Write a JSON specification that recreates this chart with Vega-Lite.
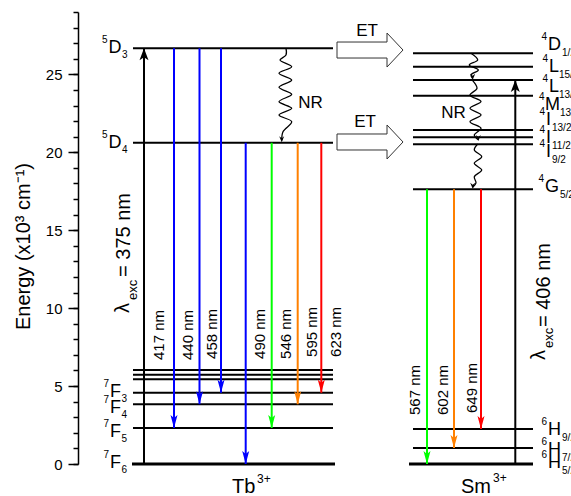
{
"$schema": "https://vega.github.io/schema/vega-lite/v6.json",
"width": 493, "height": 452,
"autosize": {"type": "none"},
"padding": {"left": 78, "top": 12, "right": 0, "bottom": 32},
"background": "white",
"config": {"view": {"stroke": null}, "font": "Liberation Sans", "axis": {"grid": false}, "text": {"font": "Liberation Sans", "color": "black"}},
"datasets": {
"levels": [
{"ion":"Tb","term":"5D3","x1":55,"x2":255,"e":26.67},
{"ion":"Tb","term":"5D4","x1":55,"x2":255,"e":20.61},
{"ion":"Tb","term":"7F0","x1":55,"x2":255,"e":6.03},
{"ion":"Tb","term":"7F1","x1":55,"x2":255,"e":5.73},
{"ion":"Tb","term":"7F2","x1":55,"x2":255,"e":5.43},
{"ion":"Tb","term":"7F3","x1":55,"x2":255,"e":4.57},
{"ion":"Tb","term":"7F4","x1":55,"x2":255,"e":3.83},
{"ion":"Tb","term":"7F5","x1":55,"x2":255,"e":2.31},
{"ion":"Tb","term":"7F6","x1":54,"x2":257,"e":0},
{"ion":"Sm","term":"4D1/2","x1":335,"x2":455,"e":26.35},
{"ion":"Sm","term":"4L15/2","x1":335,"x2":455,"e":25.49},
{"ion":"Sm","term":"4L13/2","x1":335,"x2":455,"e":24.64},
{"ion":"Sm","term":"4M13/2","x1":335,"x2":455,"e":23.63},
{"ion":"Sm","term":"4I13/2","x1":335,"x2":455,"e":21.43},
{"ion":"Sm","term":"4I11/2","x1":335,"x2":455,"e":20.96},
{"ion":"Sm","term":"4I9/2","x1":335,"x2":455,"e":20.51},
{"ion":"Sm","term":"4G5/2","x1":335,"x2":455,"e":17.62},
{"ion":"Sm","term":"6H9/2","x1":335,"x2":455,"e":2.25},
{"ion":"Sm","term":"6H7/2","x1":335,"x2":455,"e":1.03},
{"ion":"Sm","term":"6H5/2","x1":331,"x2":455,"e":0}
],
"arrows": [
{"id":"exc375","x":66,"from":0,"to":26.67},
{"id":"417","x":96,"from":26.67,"to":2.31},
{"id":"440","x":121.5,"from":26.67,"to":3.83},
{"id":"458","x":143,"from":26.67,"to":4.57},
{"id":"490","x":167.7,"from":20.61,"to":0},
{"id":"546","x":193.7,"from":20.61,"to":2.31},
{"id":"595","x":219.7,"from":20.61,"to":3.83},
{"id":"623","x":243.3,"from":20.61,"to":4.57},
{"id":"567","x":349,"from":17.62,"to":0},
{"id":"602","x":376,"from":17.62,"to":1.03},
{"id":"649","x":403,"from":17.62,"to":2.25},
{"id":"exc406","x":437.3,"from":0,"to":24.64}
],
"nr": [
{"grp":"tb","seq":0,"x":208,"v":26.67},
{"grp":"tb","seq":1,"x":208,"v":26.24},
{"grp":"tb","seq":2,"x":202,"v":25.92},
{"grp":"tb","seq":3,"x":213.7,"v":25.49},
{"grp":"tb","seq":4,"x":201,"v":25.07},
{"grp":"tb","seq":5,"x":213.7,"v":24.64},
{"grp":"tb","seq":6,"x":201,"v":24.17},
{"grp":"tb","seq":7,"x":213.7,"v":23.72},
{"grp":"tb","seq":8,"x":201,"v":23.25},
{"grp":"tb","seq":9,"x":213.7,"v":22.82},
{"grp":"tb","seq":10,"x":201,"v":22.39},
{"grp":"tb","seq":11,"x":213.7,"v":21.96},
{"grp":"tb","seq":12,"x":205,"v":21.32},
{"grp":"tb","seq":13,"x":203.7,"v":20.75},
{"grp":"sm1","seq":0,"x":393,"v":26.35},
{"grp":"sm1","seq":1,"x":399.7,"v":25.92},
{"grp":"sm1","seq":2,"x":391.3,"v":25.6},
{"grp":"sm1","seq":3,"x":400.3,"v":25.28},
{"grp":"sm1","seq":4,"x":393,"v":24.96},
{"grp":"sm1","seq":5,"x":394.7,"v":24.72},
{"grp":"sm2","seq":0,"x":394.7,"v":24.6},
{"grp":"sm2","seq":1,"x":399,"v":24.1},
{"grp":"sm2","seq":2,"x":392,"v":23.67},
{"grp":"sm2","seq":3,"x":403,"v":23.25},
{"grp":"sm2","seq":4,"x":392,"v":22.82},
{"grp":"sm2","seq":5,"x":403,"v":22.39},
{"grp":"sm2","seq":6,"x":392,"v":21.96},
{"grp":"sm2","seq":7,"x":403,"v":21.54},
{"grp":"sm2","seq":8,"x":396.3,"v":21.11},
{"grp":"sm2","seq":9,"x":400.3,"v":20.8},
{"grp":"sm3","seq":0,"x":399.7,"v":20.53},
{"grp":"sm3","seq":1,"x":396.3,"v":20.15},
{"grp":"sm3","seq":2,"x":403.7,"v":19.72},
{"grp":"sm3","seq":3,"x":396.3,"v":19.29},
{"grp":"sm3","seq":4,"x":403.7,"v":18.86},
{"grp":"sm3","seq":5,"x":396.3,"v":18.43},
{"grp":"sm3","seq":6,"x":398,"v":18.03},
{"grp":"sm3","seq":7,"x":394.7,"v":17.75}
],
"nrtips": [
{"grp":"tb","x":203.7,"v":20.65},
{"grp":"sm1","x":394.7,"v":24.66},
{"grp":"sm2","x":400.3,"v":20.72},
{"grp":"sm3","x":394.7,"v":17.66}
],
"et": [
{"x":259,"v":26.56},
{"x":259,"v":20.66}
],
"wl": [
{"t":"417 nm","x":81,"y":6.67},
{"t":"440 nm","x":109.5,"y":6.67},
{"t":"458 nm","x":134,"y":6.74},
{"t":"490 nm","x":182,"y":6.74},
{"t":"546 nm","x":208,"y":6.74},
{"t":"595 nm","x":233.5,"y":6.87},
{"t":"623 nm","x":258,"y":6.87},
{"t":"567 nm","x":337,"y":3.14},
{"t":"602 nm","x":364.5,"y":3.14},
{"t":"649 nm","x":394,"y":3.27}
],
"exc": [
{"t":"λ","part":"main","x":44.5,"y":9.69},
{"t":"exc","part":"sub","x":54.5,"y":10.52},
{"t":"= 375 nm","part":"main","x":46,"y":12.0},
{"t":"λ","part":"main","x":461,"y":6.67},
{"t":"exc","part":"sub","x":471,"y":7.44},
{"t":"= 406 nm","part":"main","x":466,"y":8.79}
],
"terms": [
{"ion":"Tb","main":"D","sup":"5","sub":"3","x":43.5,"xs":29.5,"xb":44,"y":26.35},
{"ion":"Tb","main":"D","sup":"5","sub":"4","x":43.5,"xs":29.5,"xb":44,"y":20.26},
{"ion":"Tb","main":"F","sup":"7","sub":"3","x":43,"xs":31,"xb":43.5,"y":4.3},
{"ion":"Tb","main":"F","sup":"7","sub":"4","x":43,"xs":31,"xb":43.5,"y":3.27},
{"ion":"Tb","main":"F","sup":"7","sub":"5","x":43,"xs":31,"xb":43.5,"y":1.73},
{"ion":"Tb","main":"F","sup":"7","sub":"6","x":43,"xs":31,"xb":43.5,"y":-0.26},
{"ion":"Sm","main":"D","sup":"4","sub":"1/2","x":470,"xs":469,"xb":484,"y":26.56},
{"ion":"Sm","main":"L","sup":"4","sub":"15/2","x":471,"xs":470,"xb":481,"y":25.15},
{"ion":"Sm","main":"L","sup":"4","sub":"13/2","x":471,"xs":470,"xb":481,"y":23.87},
{"ion":"Sm","main":"M","sup":"4","sub":"13/2","x":467,"xs":466.5,"xb":482,"y":22.71},
{"ion":"Sm","main":"I","sup":"4","sub":"13/2","x":468,"xs":467,"xb":474,"y":21.75},
{"ion":"Sm","main":"I","sup":"4","sub":"11/2","x":468,"xs":467,"xb":474,"y":20.6},
{"ion":"Sm","main":"I","sup":"4","sub":"9/2","x":468,"xs":467,"xb":474,"y":19.7},
{"ion":"Sm","main":"G","sup":"4","sub":"5/2","x":467,"xs":466,"xb":482,"y":17.45},
{"ion":"Sm","main":"H","sup":"6","sub":"9/2","x":470,"xs":469,"xb":484,"y":1.86},
{"ion":"Sm","main":"H","sup":"6","sub":"7/2","x":470,"xs":469,"xb":484,"y":0.58},
{"ion":"Sm","main":"H","sup":"6","sub":"5/2","x":470,"xs":469,"xb":484,"y":-0.26}
],
"notes": [
{"t":"NR","x":232.5,"y":23.13,"kind":"mid"},
{"t":"NR","x":375.5,"y":22.55,"kind":"mid"},
{"t":"ET","x":289,"y":27.78,"kind":"mid"},
{"t":"ET","x":287,"y":21.94,"kind":"mid"},
{"t":"Tb","x":154,"y":-1.86,"kind":"ion"},
{"t":"Sm","x":383,"y":-1.86,"kind":"ion"},
{"t":"3+","x":179,"y":-1.22,"kind":"sup"},
{"t":"3+","x":415,"y":-1.15,"kind":"sup"}
]
},
"resolve": {"axis": {"y": "independent"}},
"layer": [
{"data": {"name": "levels"}, "transform": [{"filter": "datum.e > 0"}],
 "mark": {"type": "rule", "strokeWidth": 2, "color": "black"},
 "encoding": {
  "x": {"field": "x1", "type": "quantitative", "scale": {"domain": [0, 493], "nice": false}, "axis": null},
  "x2": {"field": "x2"},
  "y": {"field": "e", "type": "quantitative", "scale": {"domain": [0, 29], "nice": false},
   "axis": {"orient": "left", "values": [0, 5, 10, 15, 20, 25], "format": "d", "title": "Energy (x10³ cm⁻¹)", "titleFontSize": 20, "titleFontWeight": "normal", "titleColor": "black", "titleX": -55, "titleY": 234, "titleAngle": 270, "titleAlign": "center", "titleBaseline": "middle", "labelFontSize": 15, "labelColor": "black", "labelPadding": 6, "tickSize": 10, "tickWidth": 1.5, "tickColor": "black", "domainColor": "black", "domainWidth": 1.5}}
 }},
{"data": {"name": "levels"}, "transform": [{"filter": "datum.e == 0"}],
 "mark": {"type": "rule", "strokeWidth": 3, "color": "black"},
 "encoding": {
  "x": {"field": "x1", "type": "quantitative", "scale": {"domain": [0, 493], "nice": false}, "axis": null},
  "x2": {"field": "x2"},
  "y": {"field": "e", "type": "quantitative", "scale": {"domain": [0, 29], "nice": false},
   "axis": {"orient": "left", "values": [0,1,2,3,4,5,6,7,8,9,10,11,12,13,14,15,16,17,18,19,20,21,22,23,24,25,26,27,28,29], "labels": false, "title": null, "tickSize": 5, "tickWidth": 1.5, "tickColor": "black", "domain": false}}
 }},
{"data": {"name": "arrows"},
 "mark": {"type": "rule", "strokeWidth": 2},
 "encoding": {
  "x": {"field": "x", "type": "quantitative", "scale": {"domain": [0, 493], "nice": false}, "axis": null},
  "y": {"field": "from", "type": "quantitative", "scale": {"domain": [0, 29], "nice": false}, "axis": null},
  "y2": {"field": "to"},
  "color": {"field": "id", "type": "nominal", "legend": null, "scale": {"domain": ["exc375","417","440","458","490","546","595","623","567","602","649","exc406"], "range": ["#000000","#0000ff","#0000ff","#0000ff","#0000ff","#00ff00","#ff8000","#ff0000","#00ff00","#ff8000","#ff0000","#000000"]}}
 }},
{"data": {"name": "arrows"}, "transform": [{"filter": "datum.to < datum.from"}],
 "mark": {"type": "point", "shape": "M-3.5,-13L0,-10L3.5,-13L0,0Z", "size": 4, "filled": true, "opacity": 1, "strokeWidth": 0},
 "encoding": {
  "x": {"field": "x", "type": "quantitative", "scale": {"domain": [0, 493], "nice": false}, "axis": null},
  "y": {"field": "to", "type": "quantitative", "scale": {"domain": [0, 29], "nice": false}, "axis": null},
  "color": {"field": "id", "type": "nominal", "legend": null}
 }},
{"data": {"name": "arrows"}, "transform": [{"filter": "datum.to > datum.from"}],
 "mark": {"type": "point", "shape": "M-4.5,12L0,9L4.5,12L0,0Z", "size": 4, "filled": true, "opacity": 1, "strokeWidth": 0},
 "encoding": {
  "x": {"field": "x", "type": "quantitative", "scale": {"domain": [0, 493], "nice": false}, "axis": null},
  "y": {"field": "to", "type": "quantitative", "scale": {"domain": [0, 29], "nice": false}, "axis": null},
  "color": {"field": "id", "type": "nominal", "legend": null}
 }},
{"data": {"name": "nr"},
 "mark": {"type": "line", "interpolate": "catmull-rom", "strokeWidth": 1.3, "color": "black"},
 "encoding": {
  "x": {"field": "x", "type": "quantitative", "scale": {"domain": [0, 493], "nice": false}, "axis": null},
  "y": {"field": "v", "type": "quantitative", "scale": {"domain": [0, 29], "nice": false}, "axis": null},
  "detail": {"field": "grp"},
  "order": {"field": "seq", "type": "quantitative"}
 }},
{"data": {"name": "nrtips"},
 "mark": {"type": "point", "shape": "M-2.5,-6L0,-4L2.5,-6L0,0Z", "size": 4, "filled": true, "opacity": 1, "color": "black", "strokeWidth": 0},
 "encoding": {
  "x": {"field": "x", "type": "quantitative", "scale": {"domain": [0, 493], "nice": false}, "axis": null},
  "y": {"field": "v", "type": "quantitative", "scale": {"domain": [0, 29], "nice": false}, "axis": null}
 }},
{"data": {"name": "et"},
 "mark": {"type": "point", "shape": "M0,-8L50,-8L50,-17L66,0L50,17L50,8L0,8Z", "size": 4, "filled": true, "fill": "white", "stroke": "#333333", "strokeWidth": 1, "opacity": 1},
 "encoding": {
  "x": {"field": "x", "type": "quantitative", "scale": {"domain": [0, 493], "nice": false}, "axis": null},
  "y": {"field": "v", "type": "quantitative", "scale": {"domain": [0, 29], "nice": false}, "axis": null}
 }},
{"data": {"name": "wl"},
 "mark": {"type": "text", "angle": 270, "align": "left", "baseline": "middle", "fontSize": 15},
 "encoding": {
  "x": {"field": "x", "type": "quantitative", "scale": {"domain": [0, 493], "nice": false}, "axis": null},
  "y": {"field": "y", "type": "quantitative", "scale": {"domain": [0, 29], "nice": false}, "axis": null},
  "text": {"field": "t"}
 }},
{"data": {"name": "exc"}, "transform": [{"filter": "datum.part == 'main'"}],
 "mark": {"type": "text", "angle": 270, "align": "left", "baseline": "middle", "fontSize": 20},
 "encoding": {
  "x": {"field": "x", "type": "quantitative", "scale": {"domain": [0, 493], "nice": false}, "axis": null},
  "y": {"field": "y", "type": "quantitative", "scale": {"domain": [0, 29], "nice": false}, "axis": null},
  "text": {"field": "t"}
 }},
{"data": {"name": "exc"}, "transform": [{"filter": "datum.part == 'sub'"}],
 "mark": {"type": "text", "angle": 270, "align": "left", "baseline": "middle", "fontSize": 13},
 "encoding": {
  "x": {"field": "x", "type": "quantitative", "scale": {"domain": [0, 493], "nice": false}, "axis": null},
  "y": {"field": "y", "type": "quantitative", "scale": {"domain": [0, 29], "nice": false}, "axis": null},
  "text": {"field": "t"}
 }},
{"data": {"name": "terms"}, "transform": [{"filter": "datum.ion == 'Tb'"}],
 "mark": {"type": "text", "align": "right", "baseline": "alphabetic", "fontSize": 18},
 "encoding": {
  "x": {"field": "x", "type": "quantitative", "scale": {"domain": [0, 493], "nice": false}, "axis": null},
  "y": {"field": "y", "type": "quantitative", "scale": {"domain": [0, 29], "nice": false}, "axis": null},
  "text": {"field": "main"}
 }},
{"data": {"name": "terms"}, "transform": [{"filter": "datum.ion == 'Tb'"}],
 "mark": {"type": "text", "align": "right", "baseline": "alphabetic", "fontSize": 10, "dy": -10},
 "encoding": {
  "x": {"field": "xs", "type": "quantitative", "scale": {"domain": [0, 493], "nice": false}, "axis": null},
  "y": {"field": "y", "type": "quantitative", "scale": {"domain": [0, 29], "nice": false}, "axis": null},
  "text": {"field": "sup"}
 }},
{"data": {"name": "terms"}, "transform": [{"filter": "datum.ion == 'Tb'"}],
 "mark": {"type": "text", "align": "left", "baseline": "alphabetic", "fontSize": 10, "dy": 5},
 "encoding": {
  "x": {"field": "xb", "type": "quantitative", "scale": {"domain": [0, 493], "nice": false}, "axis": null},
  "y": {"field": "y", "type": "quantitative", "scale": {"domain": [0, 29], "nice": false}, "axis": null},
  "text": {"field": "sub"}
 }},
{"data": {"name": "terms"}, "transform": [{"filter": "datum.ion == 'Sm'"}],
 "mark": {"type": "text", "align": "left", "baseline": "alphabetic", "fontSize": 18},
 "encoding": {
  "x": {"field": "x", "type": "quantitative", "scale": {"domain": [0, 493], "nice": false}, "axis": null},
  "y": {"field": "y", "type": "quantitative", "scale": {"domain": [0, 29], "nice": false}, "axis": null},
  "text": {"field": "main"}
 }},
{"data": {"name": "terms"}, "transform": [{"filter": "datum.ion == 'Sm'"}],
 "mark": {"type": "text", "align": "right", "baseline": "alphabetic", "fontSize": 10, "dy": -10},
 "encoding": {
  "x": {"field": "xs", "type": "quantitative", "scale": {"domain": [0, 493], "nice": false}, "axis": null},
  "y": {"field": "y", "type": "quantitative", "scale": {"domain": [0, 29], "nice": false}, "axis": null},
  "text": {"field": "sup"}
 }},
{"data": {"name": "terms"}, "transform": [{"filter": "datum.ion == 'Sm'"}],
 "mark": {"type": "text", "align": "left", "baseline": "alphabetic", "fontSize": 10, "dy": 6},
 "encoding": {
  "x": {"field": "xb", "type": "quantitative", "scale": {"domain": [0, 493], "nice": false}, "axis": null},
  "y": {"field": "y", "type": "quantitative", "scale": {"domain": [0, 29], "nice": false}, "axis": null},
  "text": {"field": "sub"}
 }},
{"data": {"name": "notes"}, "transform": [{"filter": "datum.kind == 'mid'"}],
 "mark": {"type": "text", "align": "center", "baseline": "middle", "fontSize": 17},
 "encoding": {
  "x": {"field": "x", "type": "quantitative", "scale": {"domain": [0, 493], "nice": false}, "axis": null},
  "y": {"field": "y", "type": "quantitative", "scale": {"domain": [0, 29], "nice": false}, "axis": null},
  "text": {"field": "t"}
 }},
{"data": {"name": "notes"}, "transform": [{"filter": "datum.kind == 'ion'"}],
 "mark": {"type": "text", "align": "left", "baseline": "alphabetic", "fontSize": 20},
 "encoding": {
  "x": {"field": "x", "type": "quantitative", "scale": {"domain": [0, 493], "nice": false}, "axis": null},
  "y": {"field": "y", "type": "quantitative", "scale": {"domain": [0, 29], "nice": false}, "axis": null},
  "text": {"field": "t"}
 }},
{"data": {"name": "notes"}, "transform": [{"filter": "datum.kind == 'sup'"}],
 "mark": {"type": "text", "align": "left", "baseline": "alphabetic", "fontSize": 12},
 "encoding": {
  "x": {"field": "x", "type": "quantitative", "scale": {"domain": [0, 493], "nice": false}, "axis": null},
  "y": {"field": "y", "type": "quantitative", "scale": {"domain": [0, 29], "nice": false}, "axis": null},
  "text": {"field": "t"}
 }}
]
}
